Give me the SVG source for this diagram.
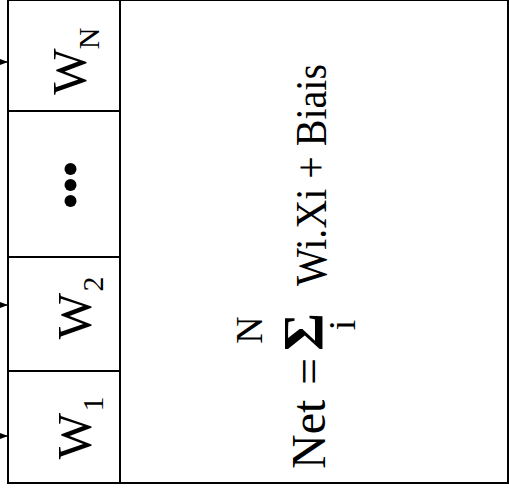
<svg xmlns="http://www.w3.org/2000/svg" width="509" height="493" viewBox="0 0 509 493">
  <defs>
    <marker id="tip" markerWidth="10" markerHeight="8" refX="9" refY="4" orient="auto" markerUnits="userSpaceOnUse">
      <path d="M0,0.5 L9,4 L0,7.5 Z" fill="#000"/>
    </marker>
    <style>
      .frame { fill: #fff; stroke: #000; stroke-width: 2; }
      .rule { stroke: #000; stroke-width: 2; fill: none; }
      text { font-family: "Liberation Serif", "DejaVu Serif", "Times New Roman", serif; fill: #000; text-anchor: middle; }
      .w { font-size: 49px; }
      .sub { font-size: 30px; }
      .eq { font-size: 48px; }
      .lim { font-size: 38px; }
      .arrow { stroke: #000; stroke-width: 1.2; fill: none; marker-end: url(#tip); }
      .dot { fill: #000; }
    </style>
  </defs>

  <!-- outer frame and cell dividers -->
  <g id="frame">
    <rect class="frame" x="8" y="0" width="500" height="483"/>
    <line class="rule" x1="120" y1="0" x2="120" y2="483"/>
    <line class="rule" x1="8" y1="111" x2="120" y2="111"/>
    <line class="rule" x1="8" y1="257" x2="120" y2="257"/>
    <line class="rule" x1="8" y1="371" x2="120" y2="371"/>
  </g>

  <!-- weight cells -->
  <g id="weight-n">
    <text class="w" transform="translate(86,71.5) rotate(-90)">W</text>
    <text class="sub" transform="translate(99,38.5) rotate(-90)">N</text>
  </g>
  <g id="weight-dots">
    <circle class="dot" cx="70.5" cy="169" r="6"/>
    <circle class="dot" cx="70.5" cy="185" r="6"/>
    <circle class="dot" cx="70.5" cy="201" r="6"/>
  </g>
  <g id="weight-2">
    <text class="w" transform="translate(91,316) rotate(-90)">W</text>
    <text class="sub" transform="translate(103,284) rotate(-90)">2</text>
  </g>
  <g id="weight-1">
    <text class="w" transform="translate(91,436) rotate(-90)">W</text>
    <text class="sub" transform="translate(103,404) rotate(-90)">1</text>
  </g>

  <!-- summation cell -->
  <g id="net">
    <text class="eq" transform="translate(325,469) rotate(-90)" style="text-anchor:start">Net</text>
    <text class="eq" transform="translate(325,371.5) rotate(-90)">=</text>
    <text transform="translate(323,332) rotate(-90)" style="font-size:58px;font-weight:bold">Σ</text>
    <text class="lim" transform="translate(262,330) rotate(-90)">N</text>
    <text class="lim" transform="translate(355,325) rotate(-90)">i</text>
    <text transform="translate(326,286) rotate(-90)" style="text-anchor:start;font-size:44px" textLength="222" lengthAdjust="spacingAndGlyphs">Wi.Xi + Biais</text>
  </g>

  <!-- input connectors -->
  <g id="connectors">
    <line class="arrow" x1="-2" y1="62" x2="8" y2="62"/>
    <line class="arrow" x1="-2" y1="305" x2="8" y2="305"/>
    <line class="arrow" x1="-2" y1="436" x2="8" y2="436"/>
  </g>
</svg>
